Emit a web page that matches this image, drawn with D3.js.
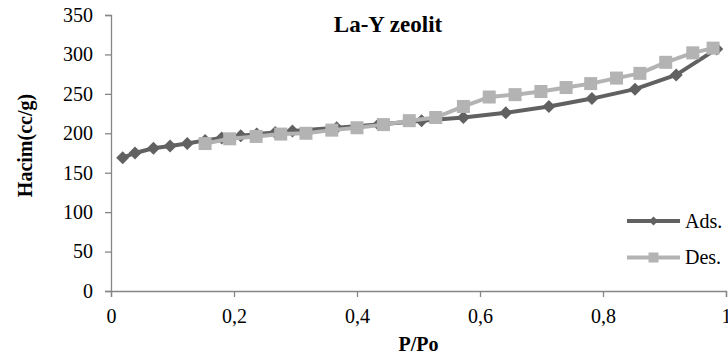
<!DOCTYPE html>
<html>
<head>
<meta charset="utf-8">
<script src="https://cdn.jsdelivr.net/npm/d3@7"></script>
<style>
  html, body { margin: 0; padding: 0; background: #fff; }
  svg { display: block; }
  svg text { font-family: "Liberation Serif", "Times New Roman", serif !important; fill: #000; }
</style>
</head>
<body>
<svg id="chart" width="728" height="358"></svg>
<script>
// ---- data ----
const adsX = [0.019, 0.039, 0.069, 0.096, 0.124, 0.153, 0.180, 0.211, 0.237, 0.267, 0.295, 0.367, 0.435, 0.505, 0.573, 0.642, 0.712, 0.782, 0.852, 0.919, 0.985];
const adsY = [169, 175, 181, 184, 187, 191, 194, 197, 199, 201, 203, 207, 211, 216, 220, 226, 234, 244, 256, 274, 307];
const desX = [0.153, 0.193, 0.236, 0.276, 0.317, 0.359, 0.400, 0.443, 0.485, 0.528, 0.573, 0.615, 0.657, 0.699, 0.740, 0.780, 0.822, 0.860, 0.902, 0.946, 0.979];
const desY = [187, 193, 196, 199, 200, 204, 207, 211, 216, 220, 234, 246, 249, 253, 258, 263, 270, 276, 290, 302, 308];
const xTicks = [0, 0.2, 0.4, 0.6, 0.8, 1];
const xTickLabels = ["0", "0,2", "0,4", "0,6", "0,8", "1"];
const yTicks = [0, 50, 100, 150, 200, 250, 300, 350];
const seriesNames = ["Ads.", "Des."];
const title = "La-Y zeolit";
const xTitle = "P/Po";
const yTitle = "Hacim(cc/g)";

const colors = { ads: "#616161", des: "#b3b3b3", axis: "#868686" };
const serif = '"Liberation Serif", "Times New Roman", serif';

const svg = d3.select("#chart");
const x = d3.scaleLinear().domain([0, 1]).range([111, 726]);
const y = d3.scaleLinear().domain([0, 350]).range([291, 15]);

// axes
const xAxis = svg.append("g").attr("transform", `translate(0,${y(0)})`)
  .call(d3.axisBottom(x).tickValues(xTicks).tickFormat((d, i) => xTickLabels[i]).tickSizeOuter(0).tickSize(6).tickPadding(12));
const yAxis = svg.append("g").attr("transform", `translate(${x(0)},0)`)
  .call(d3.axisLeft(y).tickValues(yTicks).tickSizeOuter(0).tickSize(6).tickPadding(12));
[xAxis, yAxis].forEach(g => {
  g.attr("font-family", serif).attr("font-size", 20);
  g.select(".domain").attr("stroke", colors.axis).attr("stroke-width", 1.3);
  g.selectAll(".tick line").attr("stroke", colors.axis).attr("stroke-width", 1.3);
  g.selectAll(".tick text").attr("font-family", serif).attr("font-size", 20).attr("fill", "#000");
});

const adsData = adsX.map((d, i) => [d, adsY[i]]);
const desData = desX.map((d, i) => [d, desY[i]]);
const line = d3.line().x(d => x(d[0])).y(d => y(d[1]));

function drawDiamond(g, cx, cy, r) {
  g.append("path").attr("d", `M${cx},${cy - r}L${cx + r},${cy}L${cx},${cy + r}L${cx - r},${cy}Z`).attr("fill", colors.ads);
}

// Ads series
svg.append("path").datum(adsData).attr("d", line).attr("fill", "none").attr("stroke", colors.ads).attr("stroke-width", 4).attr("stroke-linejoin", "round");
const gA = svg.append("g");
adsData.forEach(d => drawDiamond(gA, x(d[0]), y(d[1]), 6.5));

// Des series
svg.append("path").datum(desData).attr("d", line).attr("fill", "none").attr("stroke", colors.des).attr("stroke-width", 4).attr("stroke-linejoin", "round");
svg.append("g").selectAll("rect").data(desData).join("rect")
  .attr("x", d => x(d[0]) - 6.5).attr("y", d => y(d[1]) - 6.5)
  .attr("width", 13).attr("height", 13).attr("fill", colors.des);

// legend
const lg = svg.append("g").attr("font-family", serif);
lg.append("line").attr("x1", 627).attr("x2", 680).attr("y1", 221).attr("y2", 221).attr("stroke", colors.ads).attr("stroke-width", 4);
drawDiamond(lg, 653.5, 221, 4.5);
lg.append("text").attr("x", 685).attr("y", 227.5).attr("font-size", 20).text(seriesNames[0]);
lg.append("line").attr("x1", 627).attr("x2", 680).attr("y1", 257.5).attr("y2", 257.5).attr("stroke", colors.des).attr("stroke-width", 4);
lg.append("rect").attr("x", 648.5).attr("y", 252.5).attr("width", 10).attr("height", 10).attr("fill", colors.des);
lg.append("text").attr("x", 685).attr("y", 264).attr("font-size", 20).text(seriesNames[1]);

// titles
svg.append("text").attr("x", 388).attr("y", 32).attr("text-anchor", "middle")
  .attr("font-size", 23).attr("font-weight", "bold").text(title);
svg.append("text").attr("x", 418.5).attr("y", 351).attr("text-anchor", "middle")
  .attr("font-size", 20).attr("font-weight", "bold").text(xTitle);
svg.append("text").attr("transform", "translate(32,145.5) rotate(-90)").attr("text-anchor", "middle")
  .attr("font-size", 20).attr("font-weight", "bold").text(yTitle);
</script>
</body>
</html>
